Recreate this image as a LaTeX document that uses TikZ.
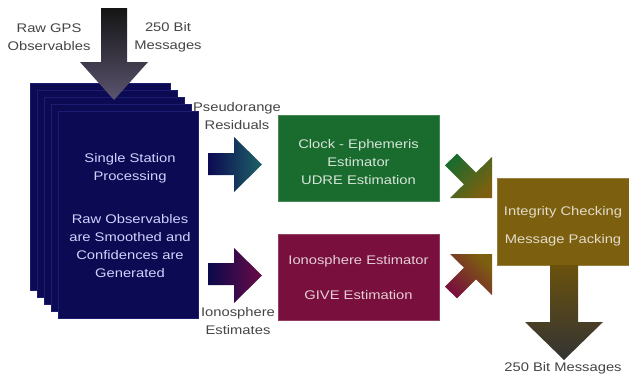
\documentclass[tikz,border=0pt]{standalone}
\usepackage{fontspec}
\setmainfont{Liberation Sans}[FakeStretch=1.18]
\begin{document}
\begin{tikzpicture}[x=1pt,y=-1pt,
  every node/.style={font=\fontsize{12.5}{18}\selectfont, align=center, inner sep=0pt},
  page/.style={fill=navy, draw=pageedge, line width=0.8pt},
  box/.style={draw=#1!80!white, line width=0.6pt, fill=#1, minimum height=86pt, minimum width=161pt},
  lbl/.style={text=lblgray},
]
\definecolor{navy}{HTML}{0C0A52}
\definecolor{pageedge}{HTML}{1C1C72}
\definecolor{boxgreen}{HTML}{1A6B2E}
\definecolor{boxmaroon}{HTML}{780F3C}
\definecolor{boxolive}{HTML}{7D600F}
\definecolor{lblgray}{HTML}{454545}
\definecolor{arrteal}{HTML}{1D6266}
\definecolor{arrplum}{HTML}{6A0A48}
\definecolor{arrgray}{HTML}{5B5470}

\useasboundingbox[fill=white] (0,0) rectangle (629,386);

% stack of station pages, back to front
\foreach \i in {0,...,4}
  \draw[page] (30+7*\i,83+7*\i) rectangle (170+7*\i,290+7*\i);

% incoming observables arrow
\shade[top color=black!92, bottom color=arrgray]
  (101,8) -- (127,8) -- (127,62) -- (148,62) -- (114,100) -- (80,62) -- (101,62) -- cycle;

% processing boxes
\node[box=boxgreen] (clock) at (358.5,158) {};
\node[box=boxmaroon] (iono) at (358.5,277.5) {};
\node[box=boxolive, minimum width=132pt, minimum height=87pt] (integ) at (563,221.5) {};

% arrows from the stack to the estimators
\shade[left color=navy, right color=arrteal]
  (208,153) -- (234,153) -- (234,137) -- (262,164.5) -- (234,192) -- (234,175) -- (208,175) -- cycle;
\shade[left color=navy!90!black, right color=arrplum]
  (208,263) -- (234,263) -- (234,248) -- (262,275.5) -- (234,303) -- (234,285) -- (208,285) -- cycle;

% arrows from the estimators to integrity checking
\shade[top color=boxgreen, bottom color=boxolive, shading angle=45]
  (445,165.4) -- (457,153.6) -- (476,172.6) -- (492,157) -- (492,198) -- (450,198) -- (464,184.3) -- cycle;
\shade[top color=boxmaroon, bottom color=boxolive, shading angle=135]
  (445,286.6) -- (457,298.4) -- (476,279.4) -- (492,295) -- (492,254) -- (450,254) -- (464,267.7) -- cycle;

% outgoing message arrow
\shade[top color=boxolive!85!black, bottom color=black!80]
  (550,265) -- (578,265) -- (578,322) -- (603,322) -- (564,360) -- (525,322) -- (550,322) -- cycle;

% texts inside the shapes
\node[text=white!80!blue!90!white] (single) at (130,215.5)
  {Single Station\\Processing\\[25pt]Raw Observables\\are Smoothed and\\Confidences are\\Generated};
\node[text=white!82!boxgreen, yshift=-4.5pt] (clocktxt) at (clock.center)
  {Clock - Ephemeris\\Estimator\\UDRE Estimation};
\node[text=white!80!boxmaroon] (ionotxt) at (iono.center)
  {Ionosphere Estimator\\[17pt]GIVE Estimation};
\node[text=white!78!boxolive, yshift=-4.5pt] (integtxt) at (integ.center)
  {Integrity Checking\\[10pt]Message Packing};

% labels beside the arrows
\node[lbl] (rawgps) at (49,37.5) {Raw GPS\\Observables};
\node[lbl] (msgin) at (168,37.5) {250 Bit\\Messages};
\node[lbl] (pseudo) at (237,116.5) {Pseudorange\\Residuals};
\node[lbl] (ionoest) at (238,321) {Ionosphere\\Estimates};
\node[lbl] (msgout) at (563,368) {250 Bit Messages};
\end{tikzpicture}
\end{document}
